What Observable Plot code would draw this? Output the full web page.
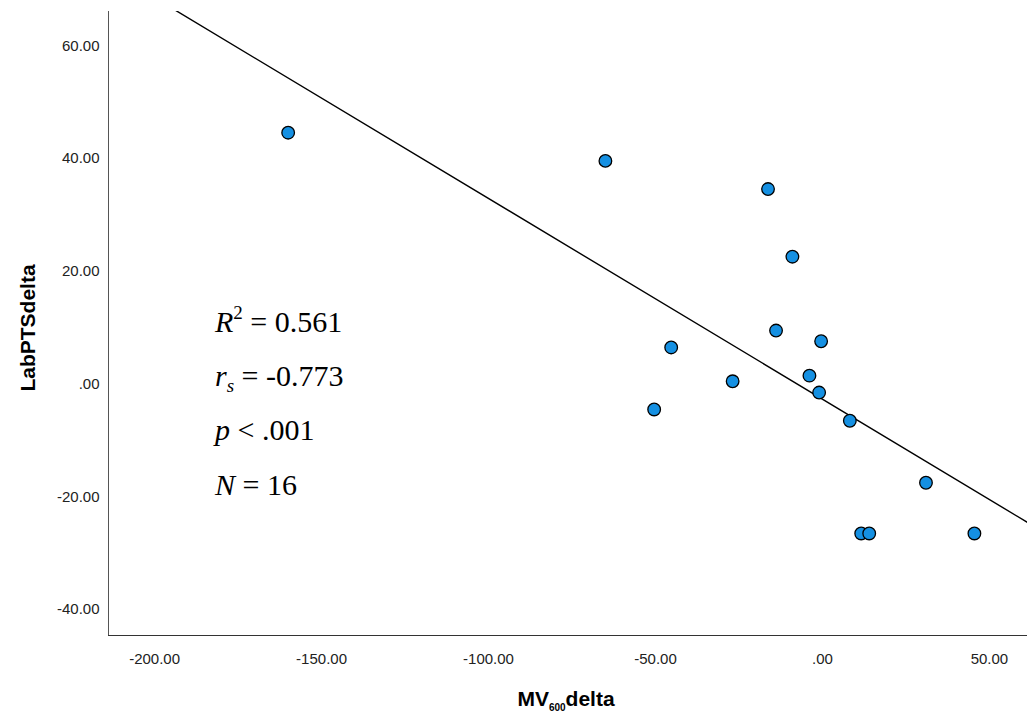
<!DOCTYPE html>
<html>
<head>
<meta charset="utf-8">
<script src="https://cdn.jsdelivr.net/npm/d3@7"></script>
<script src="https://cdn.jsdelivr.net/npm/@observablehq/plot@0.6"></script>
<style>
  body { margin: 0; background: #fff; }
  #chart { position: relative; width: 1027px; height: 715px; }
</style>
</head>
<body>
<div id="chart"></div>
<script>
// Change in MV600 (x) against change in LabPTS (y), one value per participant
const mvDelta  = [-160.0, -65.0, -50.4, -45.3, -26.9, -16.3, -13.9, -9.0, -3.9, -1.0, -0.4, 8.2, 31.0, 11.6, 14.0, 45.5];
const labDelta = [  44.6,  39.6,  -4.5,   6.5,   0.5,  34.6,   9.5, 22.6,  1.5, -1.5,  7.6, -6.5, -17.5, -26.5, -26.5, -26.5];

const xTicks = [-200, -150, -100, -50, 0, 50];
const yTicks = [-40, -20, 0, 20, 40, 60];
const xDomain = [-213.8, 61.4];
const yDomain = [-44.6, 66.1];

const statLines = [
  {name: "R", sup: "2", value: " = 0.561"},
  {name: "r", sub: "s", value: " = -0.773"},
  {name: "p", value: " < .001"},
  {name: "N", value: " = 16"}
];

const points = mvDelta.map((x, i) => ({x, y: labDelta[i]}));

// Ordinary least-squares fit, drawn across the full x range
const mx = d3.mean(mvDelta), my = d3.mean(labDelta);
const sxy = d3.sum(points, d => (d.x - mx) * (d.y - my));
const sxx = d3.sum(points, d => (d.x - mx) ** 2);
const slope = sxy / sxx;
const intercept = my - slope * mx;
const fit = xDomain.map(x => ({x, y: intercept + slope * x}));

// SPSS-style labels: plain hyphen, no leading zero for zero
const fmt = v => v === 0 ? ".00" : v.toFixed(2);

const W = 1027, H = 715;
const plot = Plot.plot({
  width: W,
  height: H,
  marginLeft: 108,
  marginRight: 0,
  marginTop: 11,
  marginBottom: 80,
  style: {fontFamily: "'Liberation Sans', Arial, sans-serif", background: "#fff", color: "#222"},
  x: {domain: xDomain},
  y: {domain: yDomain},
  marks: [
    Plot.axisX({ticks: xTicks, tickSize: 0, tickPadding: 18, tickFormat: fmt, fontSize: 15, label: null}),
    Plot.axisY({ticks: yTicks, tickSize: 0, tickPadding: 9, tickFormat: fmt, fontSize: 15, label: null}),
    Plot.ruleX([xDomain[0]], {stroke: "#555", strokeWidth: 1}),
    Plot.ruleY([yDomain[0]], {stroke: "#333", strokeWidth: 1}),
    Plot.line(fit, {x: "x", y: "y", stroke: "#000", strokeWidth: 1.4, clip: true}),
    Plot.dot(points, {x: "x", y: "y", r: 6.3, fill: "#1590e2", stroke: "#000", strokeWidth: 1.3})
  ]
});
document.getElementById("chart").appendChild(plot);

const svg = d3.select(plot);

// Axis titles
const xt = svg.append("text")
  .attr("x", 566).attr("y", 706)
  .attr("text-anchor", "middle")
  .attr("font-family", "'Liberation Sans', Arial, sans-serif")
  .attr("font-weight", "bold")
  .attr("font-size", 21)
  .attr("fill", "#000");
xt.append("tspan").text("MV");
xt.append("tspan").attr("font-size", 10).attr("dy", 5).text("600");
xt.append("tspan").attr("dy", -5).text("delta");

svg.append("text")
  .attr("transform", "translate(35,328) rotate(-90)")
  .attr("text-anchor", "middle")
  .attr("font-family", "'Liberation Sans', Arial, sans-serif")
  .attr("font-weight", "bold")
  .attr("font-size", 21)
  .attr("fill", "#000")
  .text("LabPTSdelta");

// Statistics block
const baselines = [332, 386, 440, 495];
statLines.forEach((s, i) => {
  const t = svg.append("text")
    .attr("x", 215).attr("y", baselines[i])
    .attr("text-anchor", "start")
    .attr("font-family", "'Liberation Serif', 'Times New Roman', serif")
    .attr("font-size", 30)
    .attr("fill", "#000");
  t.append("tspan").attr("font-style", "italic").text(s.name);
  if (s.sup) {
    t.append("tspan").attr("font-size", 19).attr("dy", -13).text(s.sup);
    t.append("tspan").attr("dy", 13).text(s.value);
  } else if (s.sub) {
    t.append("tspan").attr("font-style", "italic").attr("font-size", 19).attr("dy", 6).text(s.sub);
    t.append("tspan").attr("dy", -6).text(s.value);
  } else {
    t.append("tspan").text(s.value);
  }
});
</script>
</body>
</html>
